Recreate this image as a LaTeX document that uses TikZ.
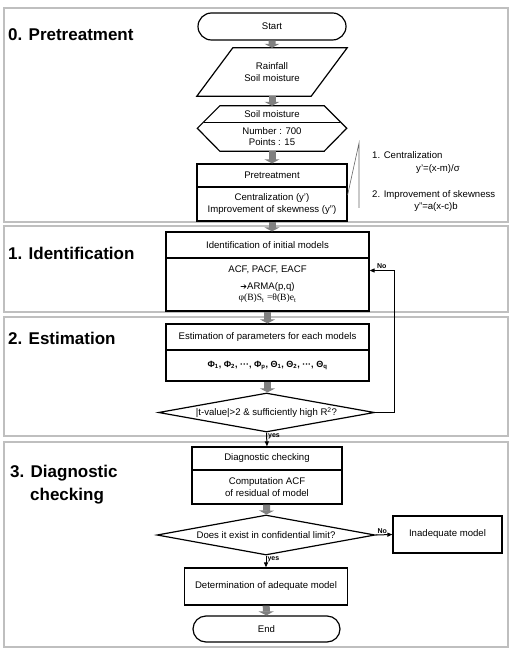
\documentclass[tikz,border=0pt]{standalone}
\usepackage{fontspec}
\setmainfont{Liberation Sans}
\newfontfamily\formulafont{Liberation Serif}
\newfontfamily\symbolfont{DejaVu Sans}
\usetikzlibrary{shapes.geometric,shapes.misc,arrows.meta}

\begin{document}
\begin{tikzpicture}[x=1pt,y=-1pt,
  font=\fontsize{9.6}{11.5}\selectfont,
  panel/.style={draw=black!25,line width=1.2pt},
  stage/.style={anchor=base west,inner sep=0pt,align=left,font=\fontsize{17}{23}\selectfont\bfseries},
  box/.style={draw,line width=1.2pt,align=center,inner sep=1pt},
  plain/.style={align=center,inner sep=1pt},
  term/.style={draw,line width=1.2pt,rounded rectangle,inner sep=1pt},
  decision/.style={draw,line width=1.2pt,diamond,aspect=5.5,inner sep=0pt},
  outline/.style={line width=1.2pt},
  grayarrow/.style={draw=black!50,line width=7pt,-{Triangle[length=4pt,width=15pt]}},
  link/.style={line width=1pt,-{Triangle[length=5pt,width=4pt]}},
  note/.style={draw=black!60,line width=0.6pt},
  tag/.style={font=\fontsize{7}{8}\selectfont\bfseries,inner sep=1pt}]
\useasboundingbox (0,0) rectangle (514,652);
% stages
\draw[panel] (4,8) rectangle (508,222);
\draw[panel] (4,226) rectangle (508,312);
\draw[panel] (4,317) rectangle (508,436);
\draw[panel] (4,442) rectangle (508,647);
\node[stage] (s0) at (8,40.5) {0. Pretreatment};
\node[stage] (s1) at (8,259) {1. Identification};
\node[stage] (s2) at (8,344) {2. Estimation};
\node[stage] (s3) at (10,500) {3. Diagnostic\\\hspace*{20pt}checking};
% 0. pretreatment
\node[term,minimum width=150,minimum height=27] (start) at (272,26.5) {Start};
\node[plain,minimum width=114,minimum height=48] (rain) at (272,72) {Rainfall\\Soil moisture};
\draw[outline] ([xshift=18]rain.north west) -- ([xshift=18]rain.north east) -- ([xshift=-18]rain.south east) -- ([xshift=-18]rain.south west) -- cycle;
\node[plain,minimum width=104,minimum height=16] (soil) at (272,114) {Soil moisture};
\node[plain,minimum width=104,minimum height=29] (soilval) at (272,136.5) {Number : 700\\Points : 15};
\draw[outline] (soil.north west) -- (soil.north east) -- ([xshift=22.5,yshift=-6.5]soilval.north east) -- (soilval.south east) -- (soilval.south west) -- ([xshift=-22.5,yshift=-6.5]soilval.north west) -- cycle;
\draw[outline] ([xshift=-16]soil.south west) -- ([xshift=16]soil.south east);
\node[box,minimum width=150,minimum height=23] (pre) at (272,175.5) {Pretreatment};
\node[box,minimum width=150,minimum height=34] (prebody) at (272,204) {Centralization (y')\\Improvement of skewness (y'')};
\coordinate (bend) at (359,143);
\draw[note] ([yshift=9]prebody.east) -- (bend) -- ++(0,65);
\node[anchor=base west,inner sep=0pt] (n1) at (372,159) {1. Centralization};
\node[anchor=base,inner sep=0pt] (n1f) at (438,171.5) {y'=(x-m)/σ};
\node[anchor=base west,inner sep=0pt] (n2) at (372,197.5) {2. Improvement of skewness};
\node[anchor=base,inner sep=0pt] (n2f) at (436,210) {y''=a(x-c)b};
% 1. identification
\node[box,minimum width=203,minimum height=26] (ident) at (267.5,245) {Identification of initial models};
\node[box,minimum width=203,minimum height=53] (identbody) at (267.5,284.5) {ACF, PACF, EACF\\[5pt]{\symbolfont\fontsize{8}{9}\selectfont ➔}ARMA(p,q)\\{\formulafont φ(B)S\textsubscript{t} =θ(B)e\textsubscript{t}}};
% 2. estimation
\node[box,minimum width=203,minimum height=26] (est) at (267.5,337) {Estimation of parameters for each models};
\node[box,minimum width=203,minimum height=31,font=\fontsize{9}{10}\selectfont\bfseries] (estbody) at (267.5,365.5) {Φ\textsubscript{1}, Φ\textsubscript{2}, ···, Φ\textsubscript{p}, Θ\textsubscript{1}, Θ\textsubscript{2}, ···, Θ\textsubscript{q}};
\node[decision,minimum width=216,minimum height=39] (check) at (266.5,412.5) {|t-value|>2 \& sufficiently high R\textsuperscript{2}?};
% 3. diagnostic checking
\node[box,minimum width=150,minimum height=23] (diag) at (267,458.5) {Diagnostic checking};
\node[box,minimum width=150,minimum height=34] (diagbody) at (267,487) {Computation ACF\\of residual of model};
\node[decision,minimum width=218,minimum height=40] (limit) at (266,535) {Does it exist in confidential limit?};
\node[box,minimum width=109,minimum height=37] (inad) at (447.5,534.5) {Inadequate model};
\node[box,minimum width=163,minimum height=37] (adeq) at (266,586.5) {Determination of adequate model};
\node[term,minimum width=149,minimum height=26] (finish) at (266.5,629) {End};
% connectors
\draw[grayarrow] (start) -- (rain);
\draw[grayarrow] (rain) -- (soil);
\draw[grayarrow] (soilval) -- (pre);
\draw[grayarrow] (prebody.south) -- (prebody.south |- ident.north);
\draw[grayarrow] (identbody) -- (est);
\draw[grayarrow] (estbody.south) -- (estbody.south |- check.north);
\draw[link] (check.east) -- ++(19,0) |- ([yshift=14]identbody.east) node[tag,above,pos=0.75] {No};
\draw[link] (check.south) -- (diag.north) node[tag,right,pos=0.3] {yes};
\draw[grayarrow] (diagbody) -- (limit);
\draw[link] (limit.east) -- (inad.west) node[tag,above,pos=0.4] {No};
\draw[link] (limit.south) -- (adeq.north) node[tag,right,pos=0.3] {yes};
\draw[grayarrow] (adeq) -- (finish);
\end{tikzpicture}
\end{document}
